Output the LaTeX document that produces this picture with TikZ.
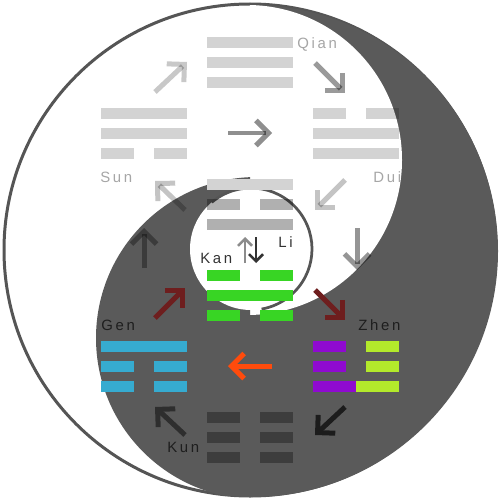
\documentclass[tikz,border=0pt]{standalone}
\usepackage{fontspec}
\newfontfamily\trifont{Liberation Sans}[LetterSpace=18]
\usetikzlibrary{arrows.meta}

\definecolor{yinfill}{HTML}{5A5A5A}
\definecolor{rim}{HTML}{555555}
\definecolor{pale}{HTML}{D3D3D3}
\definecolor{midgray}{HTML}{B0B0B0}
\definecolor{kangreen}{HTML}{38D524}
\definecolor{genblue}{HTML}{36ABD0}
\definecolor{zhenpurple}{HTML}{8F0AD0}
\definecolor{zhenlime}{HTML}{B3E92B}
\definecolor{kundark}{HTML}{3D3D3D}
\definecolor{wine}{HTML}{6E1E1E}
\definecolor{flame}{HTML}{FF4B0C}

\begin{document}
\begin{tikzpicture}[x=0.02cm, y=0.02cm,
    bigarrow/.style={line width=1mm, -{Straight Barb[length=2.5mm,width=5mm,sharp]}},
    smallarrow/.style={line width=0.5mm, -{Straight Barb[length=1.4mm,width=2.8mm,sharp]}},
    trilabel/.style={font=\trifont\fontsize{8.5}{10}\selectfont, inner sep=0pt, anchor=base west}]

    \useasboundingbox (0,0) rectangle (500,-500);
    \fill[white] (0,0) rectangle (500,-500);

    % Outer rim
    \draw[rim, line width=0.6mm, fill=white] (250,-250) circle (246);

    % Dark half with its two heads
    \begin{scope}
        \clip (252,-251) circle (246);
        \fill[yinfill] (250,0) rectangle (500,-500);
        \begin{scope}
            \clip (250,0) rectangle (500,-500);
            \fill[white] (247,-160) circle (155);
        \end{scope}
        \begin{scope}
            \clip (0,0) rectangle (250,-500);
            \fill[yinfill] (257,-338) circle (161);
        \end{scope}
    \end{scope}

    % Eye
    \fill[white] (251,-249) circle (61);
    \draw[rim, line width=0.55mm] (251,-249) ++(130:61) arc[start angle=130, end angle=-80, radius=61];

    % Arrow ends
    \coordinate (sun out) at (155,-92);   \coordinate (qian in) at (187,-62);
    \coordinate (qian out) at (315,-63);  \coordinate (dui in) at (345,-93);
    \coordinate (mid tail) at (228,-133); \coordinate (mid head) at (272,-133);
    \coordinate (dui out) at (345,-180);  \coordinate (li in) at (315,-210);
    \coordinate (li out) at (185,-210);   \coordinate (sun in) at (155,-181);
    \coordinate (gen up) at (144,-268);   \coordinate (sun up) at (144,-228);
    \coordinate (dui down) at (357,-228); \coordinate (zhen down) at (357,-270);
    \coordinate (kan tail) at (245,-263); \coordinate (kan head) at (245,-237);
    \coordinate (li tail) at (256,-237);  \coordinate (li head) at (256,-263);
    \coordinate (gen out) at (155,-318);  \coordinate (kan in) at (185,-288);
    \coordinate (kan out) at (315,-290);  \coordinate (zhen in) at (345,-320);
    \coordinate (zhen out) at (272,-366); \coordinate (gen in) at (228,-366);
    \coordinate (kun out) at (185,-435);  \coordinate (gen back) at (155,-407);
    \coordinate (zhen back) at (345,-407);\coordinate (kun in) at (315,-435);

    % Light elements, darkened where they cross the dark half
    \begin{scope}[blend mode=multiply]
        % Qian
        \begin{scope}[shift={(207,-37)}]
            \foreach \j in {0,1,2} {
                \fill[pale] (0,-20*\j) rectangle (86,-20*\j-11);
            }
        \end{scope}
        % Sun
        \begin{scope}[shift={(101,-108)}]
            \foreach \j in {0,1} {
                \fill[pale] (0,-20*\j) rectangle (86,-20*\j-11);
            }
            \fill[pale] (0,-40) rectangle (33,-51);
            \fill[pale] (53,-40) rectangle (86,-51);
        \end{scope}
        % Dui
        \begin{scope}[shift={(313,-108)}]
            \fill[pale] (0,0) rectangle (33,-11);
            \fill[pale] (53,0) rectangle (86,-11);
            \foreach \j in {1,2} {
                \fill[pale] (0,-20*\j) rectangle (86,-20*\j-11);
            }
        \end{scope}
        % Li, lower lines
        \begin{scope}[shift={(207,-179)}]
            \fill[midgray] (0,-20) rectangle (33,-31);
            \fill[midgray] (53,-20) rectangle (86,-31);
            \fill[midgray] (0,-40) rectangle (86,-51);
        \end{scope}

        \draw[bigarrow, color={rgb,255:red,200;green,200;blue,200}] (sun out) -- (qian in);
        \draw[bigarrow, color={rgb,255:red,154;green,154;blue,154}] (qian out) -- (dui in);
        \draw[bigarrow, color={rgb,255:red,143;green,143;blue,143}] (mid tail) -- (mid head);
        \draw[bigarrow, color={rgb,255:red,196;green,196;blue,196}] (dui out) -- (li in);
        \draw[bigarrow, color={rgb,255:red,196;green,196;blue,196}] (li out) -- (sun in);
        \draw[bigarrow, color={rgb,255:red,168;green,168;blue,168}] (gen up) -- (sun up);
        \draw[bigarrow, color={rgb,255:red,149;green,149;blue,149}] (dui down) -- (zhen down);
    \end{scope}

    % Li, top line
    \fill[pale] (207,-179) rectangle (293,-190);

    % Kan
    \begin{scope}[shift={(207,-270)}]
        \foreach \j in {0,2} {
            \fill[kangreen] (0,-20*\j) rectangle (33,-20*\j-11);
            \fill[kangreen] (53,-20*\j) rectangle (86,-20*\j-11);
        }
        \fill[kangreen] (0,-20) rectangle (86,-31);
    \end{scope}

    % Gen
    \begin{scope}[shift={(101,-341)}]
        \fill[genblue] (0,0) rectangle (86,-11);
        \foreach \j in {1,2} {
            \fill[genblue] (0,-20*\j) rectangle (33,-20*\j-11);
            \fill[genblue] (53,-20*\j) rectangle (86,-20*\j-11);
        }
    \end{scope}

    % Zhen
    \begin{scope}[shift={(313,-341)}]
        \foreach \j in {0,1} {
            \fill[zhenpurple] (0,-20*\j) rectangle (33,-20*\j-11);
            \fill[zhenlime] (53,-20*\j) rectangle (86,-20*\j-11);
        }
        \fill[zhenpurple] (0,-40) rectangle (43,-51);
        \fill[zhenlime] (43,-40) rectangle (86,-51);
    \end{scope}

    % Kun
    \begin{scope}[shift={(207,-412)}]
        \foreach \j in {0,1,2} {
            \fill[kundark] (0,-20*\j) rectangle (33,-20*\j-11);
            \fill[kundark] (53,-20*\j) rectangle (86,-20*\j-11);
        }
    \end{scope}

    % Remaining arrows
    \draw[smallarrow, color={rgb,255:red,140;green,140;blue,140}] (kan tail) -- (kan head);
    \draw[smallarrow, color={rgb,255:red,51;green,51;blue,51}] (li tail) -- (li head);
    \draw[bigarrow, wine] (gen out) -- (kan in);
    \draw[bigarrow, wine] (kan out) -- (zhen in);
    \draw[bigarrow, flame] (zhen out) -- (gen in);
    \draw[bigarrow, color={rgb,255:red,46;green,46;blue,46}] (kun out) -- (gen back);
    \draw[bigarrow, color={rgb,255:red,28;green,28;blue,28}] (zhen back) -- (kun in);

    % Names
    \node[trilabel, color={rgb,255:red,166;green,166;blue,166}] (qian name) at (297,-49) {Qian};
    \node[trilabel, color={rgb,255:red,166;green,166;blue,166}] (sun name) at (100,-182) {Sun};
    \node[trilabel, color={rgb,255:red,166;green,166;blue,166}] (dui name) at (373,-182) {Dui};
    \node[trilabel, color={rgb,255:red,51;green,51;blue,51}] (li name) at (278,-247) {Li};
    \node[trilabel, color={rgb,255:red,51;green,51;blue,51}] (kan name) at (200,-263) {Kan};
    \node[trilabel, color={rgb,255:red,30;green,30;blue,30}] (gen name) at (101,-330) {Gen};
    \node[trilabel, color={rgb,255:red,30;green,30;blue,30}] (zhen name) at (358,-330) {Zhen};
    \node[trilabel, color={rgb,255:red,30;green,30;blue,30}] (kun name) at (167,-452) {Kun};

\end{tikzpicture}
\end{document}
